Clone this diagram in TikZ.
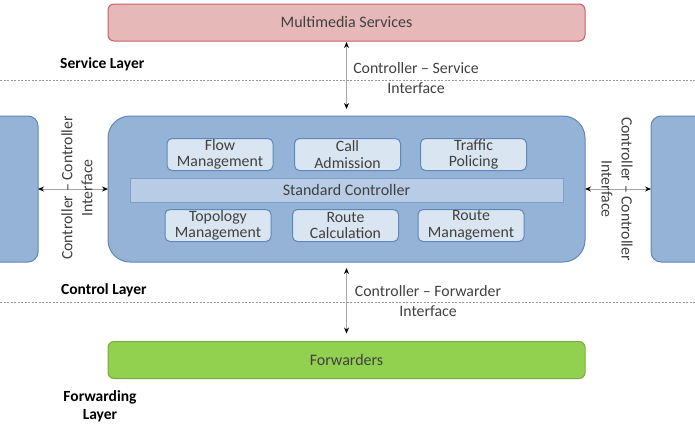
\documentclass[tikz,border=0pt]{standalone}
\usepackage{fontspec}
\setmainfont{Carlito}
\usetikzlibrary{arrows.meta}
\definecolor{msfill}{RGB}{230,185,184}
\definecolor{msdraw}{RGB}{200,95,95}
\definecolor{ctfill}{RGB}{149,179,215}
\definecolor{ctdraw}{RGB}{95,135,185}
\definecolor{infill}{RGB}{218,229,242}
\definecolor{barfill}{RGB}{184,204,229}
\definecolor{fwfill}{RGB}{146,208,80}
\definecolor{fwdraw}{RGB}{115,175,55}
\definecolor{txt}{RGB}{64,64,64}
\tikzset{
  box/.style={draw, line width=1pt, inner sep=0pt, outer sep=0pt, text=txt},
  inbox/.style={box, draw=ctdraw, fill=infill, rounded corners=5pt, minimum width=106pt, minimum height=32pt, align=center, font=\fontsize{15.8}{16.5}\selectfont},
  lbl/.style={font=\fontsize{15.8}{20}\selectfont, text=txt, align=center, inner sep=0pt},
  layer/.style={font=\bfseries\fontsize{15.5}{18}\selectfont, align=center, inner sep=0pt},
  dline/.style={draw=gray!80, line width=0.6pt, dash pattern=on 2pt off 1.5pt},
  conn/.style={draw=gray!70, line width=0.8pt, {Stealth[black,length=6pt,width=5pt]}-{Stealth[black,length=6pt,width=5pt]}},
}
\begin{document}
\begin{tikzpicture}[x=1pt,y=-1pt]
\clip (0,0) rectangle (695,429);
% layer lines
\coordinate (d1l) at (0,80); \coordinate (d1r) at (695,80);
\coordinate (d2l) at (0,302); \coordinate (d2r) at (695,302);
\draw[dline] (d1l) -- (d1r);
\draw[dline] (d2l) -- (d2r);
% service
\node[box, draw=msdraw, fill=msfill, rounded corners=6pt, minimum width=477pt, minimum height=37pt, font=\fontsize{16}{18}\selectfont] (ms) at (346.5,22.5) {Multimedia Services};
\node[layer, anchor=west] (sl) at (60,64) {Service Layer};
% control
\node[box, draw=ctdraw, fill=ctfill, rounded corners=22pt, minimum width=477pt, minimum height=146pt] (ctrl) at (346.5,189) {};
\node[box, draw=ctdraw, fill=ctfill, rounded corners=10pt, minimum width=80pt, minimum height=146pt, anchor=east] (lb) at (38,189) {};
\node[box, draw=ctdraw, fill=ctfill, rounded corners=10pt, minimum width=80pt, minimum height=146pt, anchor=west] (rb) at (651,189) {};
\node[box, draw=ctdraw!80, fill=barfill, minimum width=433pt, minimum height=24pt, font=\fontsize{16}{18}\selectfont] (sc) at (346.5,190) {Standard Controller};
\node[inbox] (fm) at (220,154.5) {Flow\\Management};
\node[inbox] (ca) at (347.5,154.5) {Call\\Admission};
\node[inbox] (tp) at (473.5,154.5) {Traffic\\Policing};
\node[inbox] (tm) at (218,225.5) {Topology\\Management};
\node[inbox] (rc) at (345.5,225.5) {Route\\Calculation};
\node[inbox] (rm) at (471,225.5) {Route\\Management};
\node[layer, anchor=west] (cl) at (61,290) {Control Layer};
% forwarding
\node[box, draw=fwdraw, fill=fwfill, rounded corners=6pt, minimum width=477pt, minimum height=37pt, font=\fontsize{16}{18}\selectfont] (fw) at (346.5,360) {Forwarders};
\node[layer] (fl) at (100,406) {Forwarding\\Layer};
% connectors
\draw[conn, shorten <=1pt, shorten >=7pt] (ms.south) -- (ctrl.north);
\draw[conn, shorten <=6pt, shorten >=8pt] (ctrl.south) -- (fw.north);
\draw[conn] (lb.east) -- (ctrl.west);
\draw[conn] (ctrl.east) -- (rb.west);
% labels
\node[lbl] (csl) at (416,78) {Controller -- Service\\Interface};
\node[lbl] (cfl) at (428,301) {Controller -- Forwarder\\Interface};
\node[lbl, rotate=90] (ccl) at (77,188) {Controller -- Controller\\Interface};
\node[lbl, rotate=-90] (ccr) at (617,189) {Controller -- Controller\\Interface};
\end{tikzpicture}
\end{document}
